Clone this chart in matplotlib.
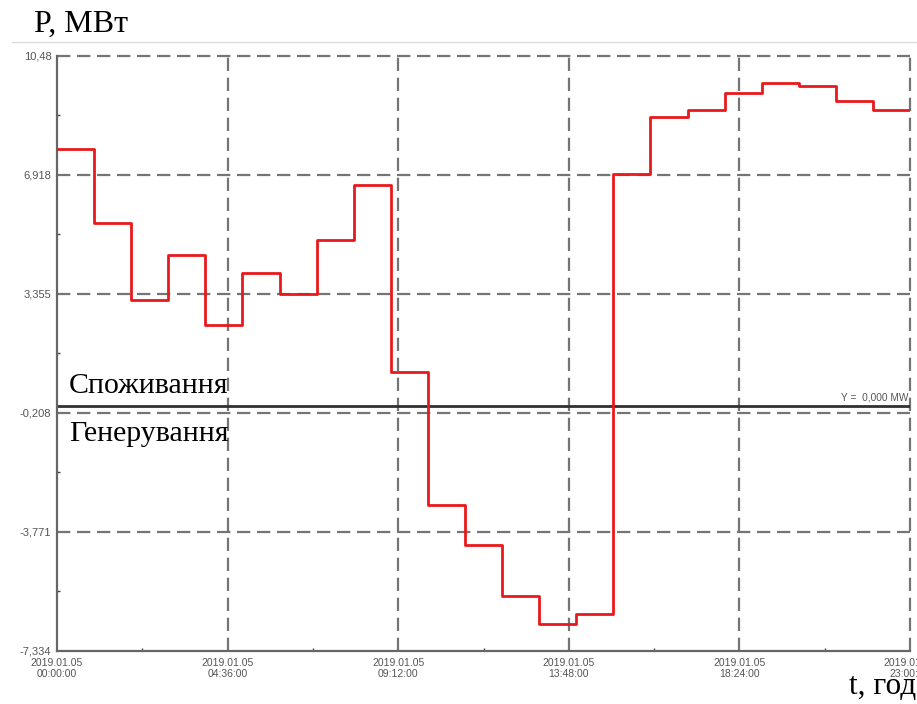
import matplotlib
matplotlib.use("Agg")
import matplotlib.pyplot as plt
from matplotlib.lines import Line2D

# Hourly power balance, 2019.01.05 (positive = consumption, negative = generation)
hours = list(range(24))
power_mw = [7.69, 5.47, 3.16, 4.51, 2.43, 3.98, 3.36, 4.97, 6.63, 1.01,
            -2.96, -4.17, -5.68, -6.52, -6.24, 6.95, 8.65, 8.85, 9.38, 9.68,
            9.58, 9.12, 8.85]

y_ticks = [10.48, 6.918, 3.355, -0.208, -3.771, -7.334]
y_tick_labels = ["10,48", "6,918", "3,355", "-0,208", "-3,771", "-7,334"]
x_ticks = [0, 4.6, 9.2, 13.8, 18.4, 23]
x_tick_labels = ["2019.01.05\n00:00:00", "2019.01.05\n04:36:00", "2019.01.05\n09:12:00",
                 "2019.01.05\n13:48:00", "2019.01.05\n18:24:00", "2019.01.05\n23:00:00"]

serif = ["Liberation Serif", "DejaVu Serif"]

fig = plt.figure(figsize=(9.17, 7.04), dpi=100)
ax = fig.add_axes([0.0622, 0.0753, 0.9302, 0.8452])

ax.set_xlim(0, 23)
ax.set_ylim(y_ticks[-1], y_ticks[0])

grid_color = "#757575"
for yv in y_ticks[:-1]:
    ax.axhline(yv, color=grid_color, lw=1.6, ls=(0, (6, 3)), zorder=1, clip_on=False)
for xv in x_ticks[1:]:
    ax.axvline(xv, color=grid_color, lw=1.6, ls=(0, (6, 3)), zorder=1, clip_on=False)

# zero reference line
ax.axhline(0, color="#303030", lw=2.0, zorder=2)
ax.text(22.95, 0.1, "Y =  0,000 MW", ha="right", va="bottom", fontsize=7.3,
        color="#555555", family="Liberation Sans")

# stepped power profile
ax.step(hours, power_mw + [power_mw[-1]], where="post", color="#e8191c",
        lw=2.0, zorder=3)

for side in ("top", "right"):
    ax.spines[side].set_visible(False)
for side in ("left", "bottom"):
    ax.spines[side].set_color("#666666")
    ax.spines[side].set_linewidth(1.6)

ax.set_yticks(y_ticks)
ax.set_yticklabels(y_tick_labels, fontsize=8, color="#555555", family="Liberation Sans")
ax.set_xticks(x_ticks)
ax.set_xticklabels(x_tick_labels, fontsize=7.5, color="#555555", linespacing=1.1,
                   family="Liberation Sans")
ax.set_xticks([2.3, 6.9, 11.5, 16.1, 20.7], minor=True)
ax.set_yticks([(a + b) / 2 for a, b in zip(y_ticks[:-1], y_ticks[1:])], minor=True)
ax.tick_params(axis="x", which="major", length=0, pad=5)
ax.tick_params(axis="y", which="major", length=0, pad=4)
ax.tick_params(axis="both", which="minor", direction="in", length=2, width=1,
               color="#444444")

# axis titles and zone captions
fig.text(0.037, 0.966, "P, МВт", family=serif, fontsize=23, ha="left", va="center")
fig.text(0.999, 0.004, "t, год", family=serif, fontsize=22.5, ha="right", va="bottom")
fig.text(0.075, 0.451, "Споживання", family=serif, fontsize=21.5, ha="left", va="center")
fig.text(0.075, 0.384, "Генерування", family=serif, fontsize=21.5, ha="left", va="center")

# thin separator under the title
fig.add_artist(Line2D([0.013, 1.0], [0.941, 0.941], transform=fig.transFigure,
                      color="#dddddd", lw=1.0))

fig.savefig("out.png", dpi=100)
